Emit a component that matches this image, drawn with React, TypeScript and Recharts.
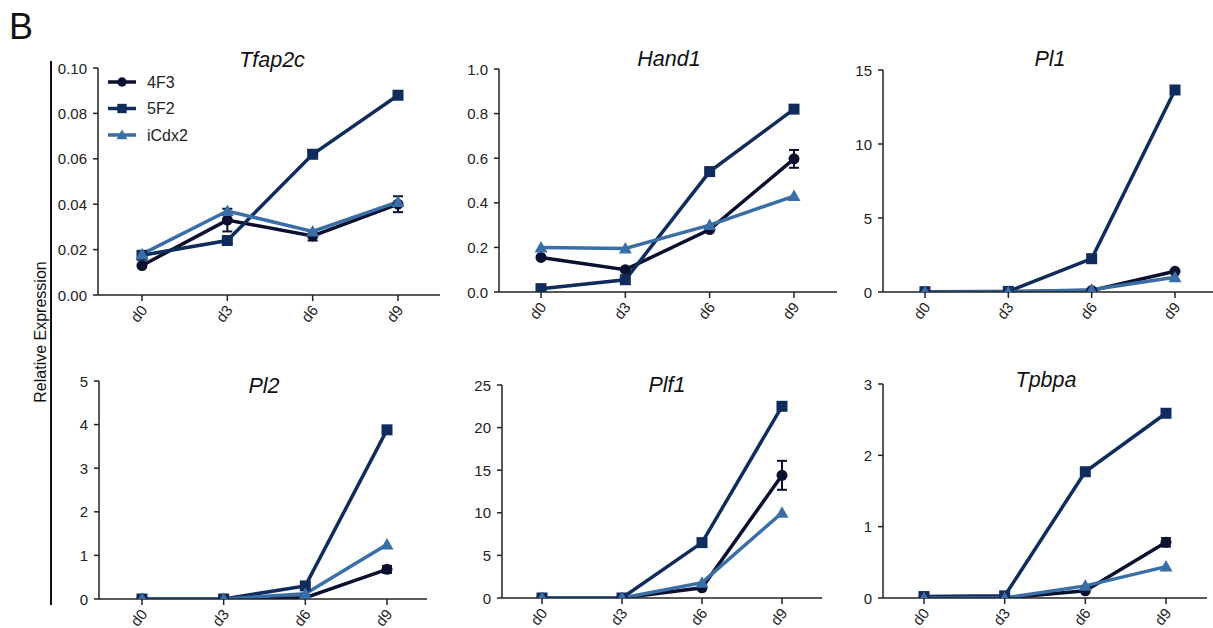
import React from 'react';
import { LineChart, Line, XAxis, YAxis, ErrorBar, Legend } from 'recharts';

const days = ['d0', 'd3', 'd6', 'd9'];
const seriesNames = ['4F3', '5F2', 'iCdx2'];
const colors = ['#0b1030', '#0f2c5c', '#3a6ea6'];

const tfap2c4F3 = [0.013, 0.033, 0.026, 0.040];
const tfap2c4F3Err = [null, 0.005, 0.002, 0.0035];
const tfap2c5F2 = [0.0175, 0.024, 0.062, 0.088];
const tfap2cCdx = [0.018, 0.037, 0.028, 0.041];

const hand14F3 = [0.155, 0.10, 0.28, 0.597];
const hand14F3Err = [null, null, null, 0.04];
const hand15F2 = [0.015, 0.055, 0.54, 0.82];
const hand1Cdx = [0.20, 0.195, 0.30, 0.43];

const pl14F3 = [0.02, 0.03, 0.1, 1.4];
const pl14F3Err = [null, null, null, null];
const pl15F2 = [0.02, 0.04, 2.25, 13.65];
const pl1Cdx = [0.0, 0.0, 0.15, 1.0];

const pl24F3 = [0.0, 0.0, 0.03, 0.68];
const pl24F3Err = [null, null, null, 0.08];
const pl25F2 = [0.0, 0.0, 0.3, 3.88];
const pl2Cdx = [0.0, 0.0, 0.12, 1.25];

const plf14F3 = [0.0, 0.0, 1.2, 14.4];
const plf14F3Err = [null, null, null, 1.7];
const plf15F2 = [0.0, 0.0, 6.5, 22.5];
const plf1Cdx = [0.0, 0.0, 1.8, 10.0];

const tpbpa4F3 = [0.01, 0.0, 0.10, 0.78];
const tpbpa4F3Err = [null, null, null, 0.06];
const tpbpa5F2 = [0.02, 0.03, 1.77, 2.59];
const tpbpaCdx = [0.0, 0.0, 0.17, 0.44];

const tfap2cTicks = [0, 0.02, 0.04, 0.06, 0.08, 0.10];
const hand1Ticks = [0, 0.2, 0.4, 0.6, 0.8, 1.0];
const pl1Ticks = [0, 5, 10, 15];
const pl2Ticks = [0, 1, 2, 3, 4, 5];
const plf1Ticks = [0, 5, 10, 15, 20, 25];
const tpbpaTicks = [0, 1, 2, 3];

const FONT = 'Liberation Sans, Arial, sans-serif';
const AXIS = '#222';

const build = (a: number[], e: (number | null)[], b: number[], c: number[]) =>
  days.map((d, i) => ({ day: d, s4F3: a[i], e4F3: e[i], s5F2: b[i], sCdx: c[i] }));

type Panel = {
  title: string;
  data: any[];
  ticks: number[];
  dec: number;
  x0: number; x1: number; yTop: number; yBot: number;
  padL: number; padR: number;
  titleX: number; titleY: number;
  legend?: boolean;
};

const panels: Panel[] = [
  { title: 'Tfap2c', data: build(tfap2c4F3, tfap2c4F3Err, tfap2c5F2, tfap2cCdx), ticks: tfap2cTicks, dec: 2,
    x0: 98, x1: 440, yTop: 68, yBot: 295, padL: 44, padR: 42, titleX: 272, titleY: 67, legend: true },
  { title: 'Hand1', data: build(hand14F3, hand14F3Err, hand15F2, hand1Cdx), ticks: hand1Ticks, dec: 1,
    x0: 499, x1: 837, yTop: 69, yBot: 292, padL: 42, padR: 43, titleX: 669, titleY: 66 },
  { title: 'Pl1', data: build(pl14F3, pl14F3Err, pl15F2, pl1Cdx), ticks: pl1Ticks, dec: 0,
    x0: 883, x1: 1220, yTop: 70, yBot: 292, padL: 42, padR: 45, titleX: 1050, titleY: 66 },
  { title: 'Pl2', data: build(pl24F3, pl24F3Err, pl25F2, pl2Cdx), ticks: pl2Ticks, dec: 0,
    x0: 99, x1: 427, yTop: 381, yBot: 599, padL: 43, padR: 40, titleX: 264, titleY: 393 },
  { title: 'Plf1', data: build(plf14F3, plf14F3Err, plf15F2, plf1Cdx), ticks: plf1Ticks, dec: 0,
    x0: 502, x1: 822, yTop: 385, yBot: 598, padL: 40, padR: 40, titleX: 667, titleY: 392 },
  { title: 'Tpbpa', data: build(tpbpa4F3, tpbpa4F3Err, tpbpa5F2, tpbpaCdx), ticks: tpbpaTicks, dec: 0,
    x0: 883, x1: 1207, yTop: 384, yBot: 598, padL: 41, padR: 41, titleX: 1046, titleY: 387 },
];

const Marker = ({ kind, cx, cy, color, s = 1 }: { kind: number; cx: number; cy: number; color: string; s?: number }) => {
  if (kind === 0) return <circle cx={cx} cy={cy} r={5.5 * s} fill={color} />;
  if (kind === 1) return <rect x={cx - 5.5 * s} y={cy - 5.5 * s} width={11 * s} height={11 * s} fill={color} />;
  return <polygon points={`${cx},${cy - 6.5 * s} ${cx + 6.5 * s},${cy + 5 * s} ${cx - 6.5 * s},${cy + 5 * s}`} fill={color} />;
};

const makeDot = (kind: number) => (props: any) => {
  const { cx, cy, index } = props;
  if (cx == null || cy == null) return <g key={`d${kind}-${index}`} />;
  return <Marker key={`d${kind}-${index}`} kind={kind} cx={cx} cy={cy} color={colors[kind]} />;
};

const XTick = (props: any) => {
  const { x, y, payload } = props;
  return (
    <g transform={`translate(${x},${y})`}>
      <text x={0} y={0} transform="translate(3,5) rotate(-52)" textAnchor="end" fontSize={15}
        fontFamily={FONT} fill={AXIS} dominantBaseline="middle">{payload.value}</text>
    </g>
  );
};

const makeYTick = (dec: number) => (props: any) => {
  const { x, y, payload, index } = props;
  return (
    <text key={`y${index}`} x={x} y={y} textAnchor="end" dominantBaseline="central" fontSize={15}
      fontFamily={FONT} fill={AXIS}>{Number(payload.value).toFixed(dec)}</text>
  );
};

const renderLegend = () => (
  <svg width={120} height={75} style={{ display: 'block' }}>
    {seriesNames.map((n, i) => {
      const y = 10 + i * 26.5;
      return (
        <g key={n}>
          <line x1={0} x2={28} y1={y} y2={y} stroke={colors[i]} strokeWidth={3.5} />
          <Marker kind={i} cx={14} cy={y} color={colors[i]} s={0.85} />
          <text x={39} y={y} dominantBaseline="central" fontSize={16} fontFamily={FONT} fill="#222">{n}</text>
        </g>
      );
    })}
  </svg>
);

const ML = 10, YW = 50, MT = 20, XH = 50, MR = 5;

const PanelChart = ({ p }: { p: Panel }) => {
  const left = p.x0 - ML - YW;
  const top = p.yTop - MT;
  const width = p.x1 - p.x0 + ML + YW + MR;
  const height = p.yBot - p.yTop + MT + XH;
  const max = p.ticks[p.ticks.length - 1];
  return (
    <div style={{ position: 'absolute', left, top, width, height }}>
      <LineChart width={width} height={height} data={p.data}
        margin={{ top: MT, right: MR, left: ML, bottom: 0 }}>
        <XAxis dataKey="day" height={XH} padding={{ left: p.padL, right: p.padR }}
          stroke={AXIS} strokeWidth={1.5} tickSize={6} tickMargin={2}
          tickLine={{ stroke: AXIS, strokeWidth: 1.5 }} tick={<XTick />} interval={0} />
        <YAxis width={YW} domain={[0, max]} ticks={p.ticks} allowDataOverflow
          stroke={AXIS} strokeWidth={1.5} tickSize={5} tickMargin={6}
          tickLine={{ stroke: AXIS, strokeWidth: 1.5 }}
          tick={makeYTick(p.dec)} />
        <Line dataKey="s4F3" stroke={colors[0]} strokeWidth={3.5} dot={makeDot(0)} activeDot={false}
          isAnimationActive={false} name="4F3">
          <ErrorBar dataKey="e4F3" width={5} stroke={colors[0]} strokeWidth={2} direction="y" />
        </Line>
        <Line dataKey="s5F2" stroke={colors[1]} strokeWidth={3.5} dot={makeDot(1)} activeDot={false}
          isAnimationActive={false} name="5F2" />
        <Line dataKey="sCdx" stroke={colors[2]} strokeWidth={3.5} dot={makeDot(2)} activeDot={false}
          isAnimationActive={false} name="iCdx2" />
        {p.legend ? (
          <Legend layout="vertical" align="center" verticalAlign="middle" content={renderLegend}
            wrapperStyle={{ left: 108 - left, top: 82 - 10 - top, width: 120, height: 75 }} />
        ) : null}
      </LineChart>
    </div>
  );
};

export default function App() {
  return (
    <div style={{ position: 'absolute', left: 0, top: 0, width: 1213, height: 628, overflow: 'hidden', background: '#fff' }}>
      {panels.map((p) => <PanelChart key={p.title} p={p} />)}
      <svg width={1213} height={628} style={{ position: 'absolute', left: 0, top: 0, pointerEvents: 'none' }}>
        <text x={9} y={39} fontSize={36} fontFamily={FONT} fill="#111">B</text>
        <line x1={51} x2={51} y1={61} y2={605} stroke="#111" strokeWidth={2} />
        <text transform="translate(46,332) rotate(-90)" textAnchor="middle" fontSize={16} fontFamily={FONT} fill="#111">Relative Expression</text>
        {panels.map((p) => (
          <text key={p.title} x={p.titleX} y={p.titleY} textAnchor="middle" fontSize={21.5} fontStyle="italic"
            fontFamily={FONT} fill="#111">{p.title}</text>
        ))}
      </svg>
    </div>
  );
}
